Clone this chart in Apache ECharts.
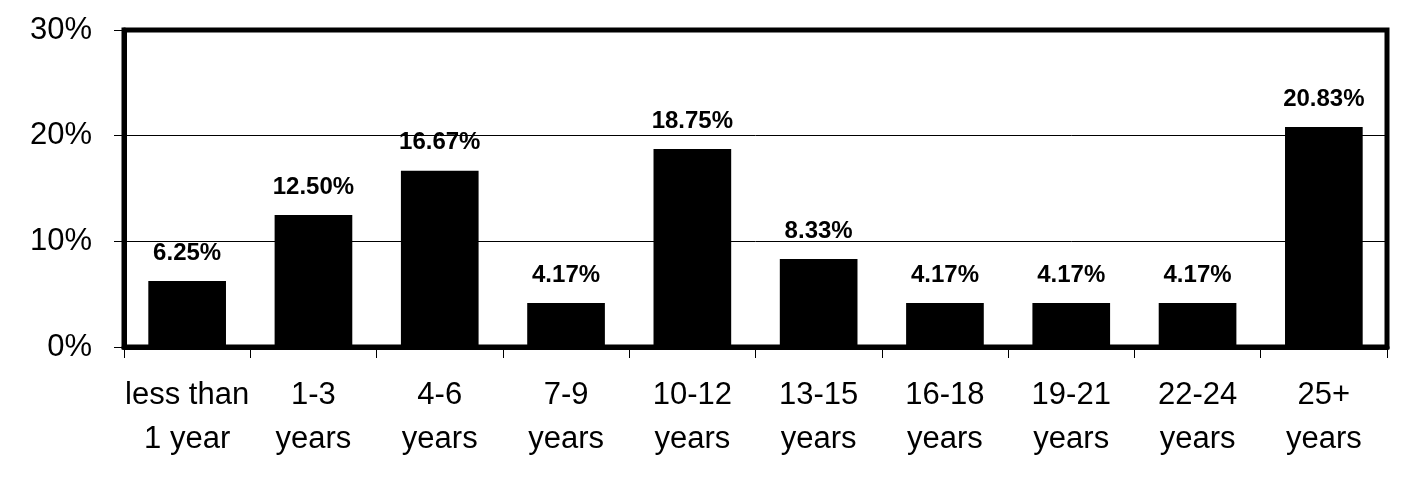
<!DOCTYPE html>
<html>
<head>
<meta charset="utf-8">
<script src="https://cdn.jsdelivr.net/npm/echarts@6/dist/echarts.min.js"></script>
<style>
html,body{margin:0;padding:0;background:#fff;}
#chart{width:1425px;height:500px;}
</style>
</head>
<body>
<div id="chart"></div>
<script>
var categories = ['less than\n1 year', '1-3\nyears', '4-6\nyears', '7-9\nyears', '10-12\nyears', '13-15\nyears', '16-18\nyears', '19-21\nyears', '22-24\nyears', '25+\nyears'];
var values = [6.25, 12.50, 16.67, 4.17, 18.75, 8.33, 4.17, 4.17, 4.17, 20.83];
var yMin = 0, yMax = 30, yStep = 10;

var chart = echarts.init(document.getElementById('chart'), null, {renderer: 'canvas'});
var baseFont = '"Liberation Sans", Arial, sans-serif';
var narrowFont = '"Liberation Sans Narrow", "Arial Narrow", "Liberation Sans", Arial, sans-serif';
chart.setOption({
  animation: false,
  backgroundColor: '#fff',
  grid: {
    left: 124, top: 30, right: 38, bottom: 153,
    show: true, borderColor: '#000', borderWidth: 5, backgroundColor: 'transparent'
  },
  xAxis: {
    type: 'category',
    data: categories,
    axisLine: {show: true, lineStyle: {color: '#000', width: 5}},
    axisTick: {show: true, inside: false, length: 11, alignWithLabel: false, lineStyle: {color: '#000', width: 1}},
    axisLabel: {
      color: '#000', fontFamily: baseFont, fontSize: 31, lineHeight: 44, margin: 26, interval: 0
    },
    splitLine: {show: false}
  },
  yAxis: {
    type: 'value',
    min: yMin, max: yMax, interval: yStep,
    axisLine: {show: true, lineStyle: {color: '#000', width: 5}},
    axisTick: {show: true, inside: false, length: 10, lineStyle: {color: '#000', width: 1}},
    axisLabel: {
      color: '#000', fontFamily: baseFont, fontSize: 31, margin: 32,
      formatter: '{value}%'
    },
    splitLine: {show: true, lineStyle: {color: '#000', width: 1}}
  },
  series: [{
    type: 'bar',
    data: values,
    barWidth: '61.5%',
    itemStyle: {color: '#000'},
    label: {
      show: true, position: 'top', distance: 16,
      color: '#000', fontFamily: narrowFont, fontWeight: 'bold', fontSize: 24,
      formatter: function (p) { return p.value.toFixed(2) + '%'; }
    }
  }]
});
</script>
</body>
</html>
